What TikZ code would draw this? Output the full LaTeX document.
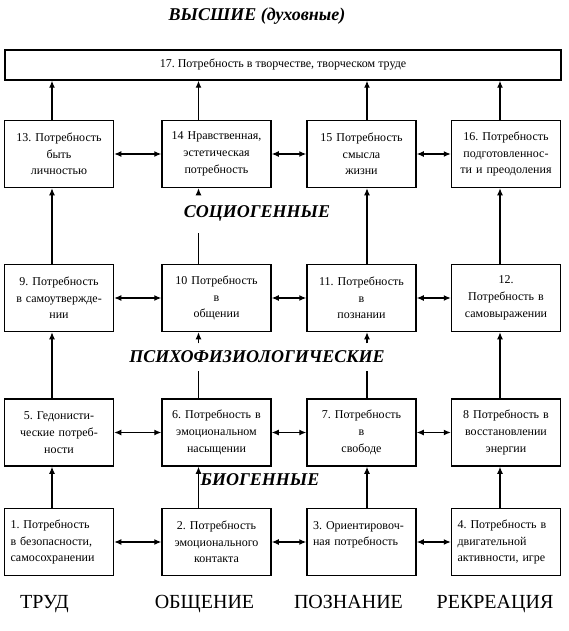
\documentclass[tikz,border=0pt]{standalone}
\usepackage{fontspec}
\setmainfont{Liberation Serif}
\usetikzlibrary{arrows.meta}
\frenchspacing

\begin{document}
\begin{tikzpicture}[x=1pt, y=-1pt, >={Latex[length=7pt, width=6pt]}, line width=1.2pt,
    every node/.style={font=\fontsize{12}{16.7}\selectfont},
    need/.style={draw, line width=1.5pt, minimum height=67pt, text width=105pt, inner sep=2pt, align=center},
    needl/.style={need, text width=97pt, inner xsep=6pt, align=left},
    level/.style={fill=white, inner sep=3pt, font=\fontsize{18}{20}\selectfont\bfseries\itshape},
    sphere/.style={anchor=base, font=\fontsize{20}{22}\selectfont}]
    \useasboundingbox (0, 0) rectangle (568, 631);

    \node[draw, line width=1.5pt, minimum width=556pt, minimum height=30pt] (17) at (283, 65) {17. Потребность в творчестве, творческом труде};

    \node[need] (13) at (59, 154) {13. Потребность\\быть\\личностью};
    \node[need] (14) at (216.5, 154) {14 Нравственная,\\эстетическая\\потребность};
    \node[need] (15) at (361.5, 154) {15 Потребность\\смысла\\жизни};
    \node[need] (16) at (506, 154) {16. Потребность\\подготовленнос-\\ти и преодоления};

    \node[need] (9) at (59, 298) {9. Потребность\\в самоутвержде-\\нии};
    \node[need] (10) at (216.5, 298) {10 Потребность\\в\\общении};
    \node[need] (11) at (361.5, 298) {11. Потребность\\в\\познании};
    \node[need] (12) at (506, 298) {12.\\Потребность в\\самовыражении};

    \node[need] (5) at (59, 432.5) {5. Гедонисти-\\ческие потреб-\\ности};
    \node[need] (6) at (216.5, 432.5) {6. Потребность в\\эмоциональном\\насыщении};
    \node[need] (7) at (361.5, 432.5) {7. Потребность\\в\\свободе};
    \node[need] (8) at (506, 432.5) {8 Потребность в\\восстановлении\\энергии};

    \node[needl] (1) at (59, 542) {1. Потребность\\в безопасности,\\самосохранении};
    \node[need] (2) at (216.5, 542) {2. Потребность\\эмоционального\\контакта};
    \node[needl] (3) at (361.5, 542) {3. Ориентировоч-\\ная потребность\\\mbox{}};
    \node[needl] (4) at (506, 542) {4. Потребность в\\двигательной\\активности, игре};

    % level labels
    \node[level] (high) at (257, 16) {ВЫСШИЕ (духовные)};
    \node[level, minimum height=38pt] (socio) at (257, 213) {СОЦИОГЕННЫЕ};
    \node[level, minimum height=26pt] (psycho) at (257, 357) {ПСИХОФИЗИОЛОГИЧЕСКИЕ};
    \node[level, inner xsep=0pt, anchor=west] (bio) at (200, 480) {БИОГЕННЫЕ};

    \node[sphere] (work) at (44.5, 608) {ТРУД};
    \node[sphere] (talk) at (204.5, 608) {ОБЩЕНИЕ};
    \node[sphere] (know) at (348.5, 608) {ПОЗНАНИЕ};
    \node[sphere] (rest) at (495, 608) {РЕКРЕАЦИЯ};

    \coordinate (c1) at (52, 0);
    \coordinate (c2) at (198.5, 0);
    \coordinate (c3) at (367, 0);
    \coordinate (c4) at (500, 0);

    % work
    \draw[->] (1.north -| c1) -- (5.south -| c1);
    \draw[->] (5.north -| c1) -- (9.south -| c1);
    \draw[->] (9.north -| c1) -- (13.south -| c1);
    \draw[->] (13.north -| c1) -- (17.south -| c1);
    % talk
    \draw[->] (2.north -| c2) -- (6.south -| c2);
    \draw (6.north -| c2) -- (psycho.south -| c2);
    \draw[->] (psycho.north -| c2) -- (10.south -| c2);
    \draw (10.north -| c2) -- (socio.south -| c2);
    \draw[->] (socio.north -| c2) -- (14.south -| c2);
    \draw[->] (14.north -| c2) -- (17.south -| c2);
    % know
    \draw[->] (3.north -| c3) -- (7.south -| c3);
    \draw (7.north -| c3) -- (psycho.south -| c3);
    \draw[->] (psycho.north -| c3) -- (11.south -| c3);
    \draw[->] (11.north -| c3) -- (15.south -| c3);
    \draw[->] (15.north -| c3) -- (17.south -| c3);
    % rest
    \draw[->] (4.north -| c4) -- (8.south -| c4);
    \draw[->] (8.north -| c4) -- (12.south -| c4);
    \draw[->] (12.north -| c4) -- (16.south -| c4);
    \draw[->] (16.north -| c4) -- (17.south -| c4);

    % rows
    \draw[<->] (13) -- (14);
    \draw[<->] (14) -- (15);
    \draw[<->] (15) -- (16);
    \draw[<->] (9) -- (10);
    \draw[<->] (10) -- (11);
    \draw[<->] (11) -- (12);
    \draw[<->] (5) -- (6);
    \draw[<->] (6) -- (7);
    \draw[<->] (7) -- (8);
    \draw[<->] (1) -- (2);
    \draw[<->] (2) -- (3);
    \draw[<->] (3) -- (4);
\end{tikzpicture}
\end{document}
